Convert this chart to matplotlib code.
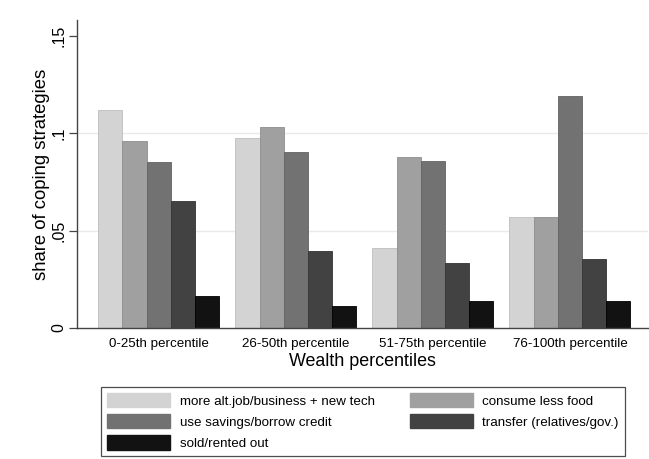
import numpy as np
import matplotlib.pyplot as plt
from matplotlib.patches import Patch

plt.rcParams['font.family'] = ['Liberation Sans', 'DejaVu Sans']

# DATA
groups = ["0-25th percentile", "26-50th percentile", "51-75th percentile", "76-100th percentile"]
strategies = ["more alt.job/business + new tech", "consume less food",
              "use savings/borrow credit", "transfer (relatives/gov.)", "sold/rented out"]
alt_job = [0.1118, 0.0974, 0.0410, 0.0569]
less_food = [0.0959, 0.1031, 0.0877, 0.0569]
savings = [0.0851, 0.0903, 0.0856, 0.1190]
transfer = [0.0651, 0.0395, 0.0333, 0.0354]
sold = [0.0164, 0.0113, 0.0138, 0.0138]
yticks = [0, 0.05, 0.1, 0.15]
ytick_labels = ["0", ".05", ".1", ".15"]

colors = ["#d3d3d3", "#a0a0a0", "#727272", "#424242", "#121212"]
edges = ["#bdbdbd", "#8e8e8e", "#626262", "#333333", "#000000"]

fig = plt.figure(figsize=(6.49, 4.59), dpi=100)
ax = fig.add_axes([77 / 649, 1 - 328 / 459, 571 / 649, 308 / 459])

series = [alt_job, less_food, savings, transfer, sold]
x = np.arange(len(groups))
w = 0.1767
handles = []
for k, vals in enumerate(series):
    ax.bar(x + (k - 2) * w, vals, width=w, color=colors[k], edgecolor=edges[k], linewidth=0.6, zorder=2)
    handles.append(Patch(facecolor=colors[k], edgecolor=colors[k], label=strategies[k]))

ax.set_xlim(-0.597, 3.57)
ax.set_ylim(0, 0.158)

# light gridlines on interior ticks
for t in yticks[1:-1]:
    ax.axhline(t, color="#eaeaea", linewidth=1, zorder=1)

ax.set_yticks(yticks)
ax.set_yticklabels(ytick_labels, rotation=90, va="center", fontsize=11.5)
ax.set_xticks(x)
ax.set_xticklabels(groups, fontsize=9.6)
ax.tick_params(axis="y", length=6, width=0.9, color="#444444", pad=1.5)
ax.tick_params(axis="x", length=0, pad=7)

ax.set_ylabel("share of coping strategies", fontsize=13.3, labelpad=1)
ax.set_xlabel("Wealth percentiles", fontsize=12.9, labelpad=2)

for s in ["top", "right"]:
    ax.spines[s].set_visible(False)
for s in ["left", "bottom"]:
    ax.spines[s].set_color("#444444")
    ax.spines[s].set_linewidth(1.0)

order = [0, 2, 4, 1, 3]
leg = fig.legend([handles[i] for i in order], [strategies[i] for i in order],
                 ncol=2, loc="lower left", bbox_to_anchor=(101 / 649, 1 - 456 / 459, 524 / 649, 75 / 459),
                 mode="expand", fontsize=9.6, frameon=True, fancybox=False,
                 handlelength=4.7, handleheight=1.25, handletextpad=0.75,
                 labelspacing=0.5, borderpad=0.45, columnspacing=2.3, borderaxespad=0)
leg.get_frame().set_edgecolor("#222222")
leg.get_frame().set_linewidth(0.9)

fig.savefig("out.png", dpi=100)
